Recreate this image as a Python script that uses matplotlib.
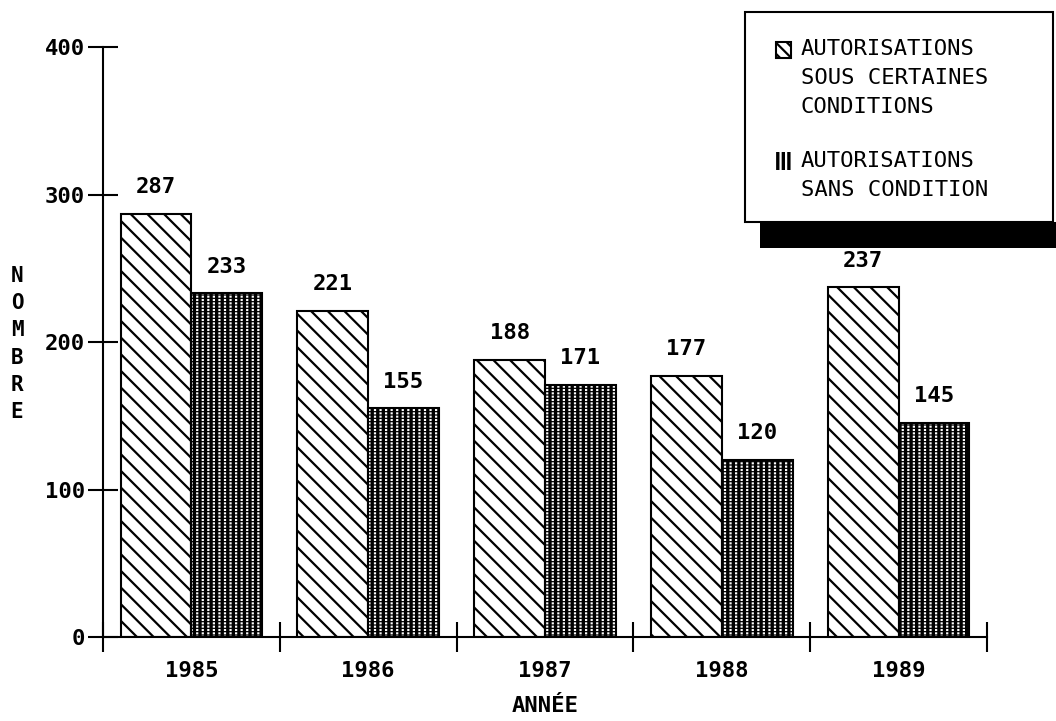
import numpy as np
import matplotlib
matplotlib.use("Agg")
import matplotlib.pyplot as plt
from matplotlib.patches import Rectangle

years = ["1985", "1986", "1987", "1988", "1989"]
sous_conditions = [287, 221, 188, 177, 237]
sans_condition = [233, 155, 171, 120, 145]
legend_labels = ["AUTORISATIONS\nSOUS CERTAINES\nCONDITIONS",
                 "AUTORISATIONS\nSANS CONDITION"]

plt.rcParams['font.family'] = ['DejaVu Sans Mono']
plt.rcParams['hatch.linewidth'] = 1.6

W, H = 1056, 721
fig = plt.figure(figsize=(W / 100, H / 100), dpi=100)
ax = fig.add_axes([103 / W, 1 - 637 / H, (987 - 103) / W, (637 - 47) / H])

x = np.arange(len(years))
bw = 0.4

# hatched bars
ax.bar(x - bw / 2, sous_conditions, bw, facecolor='white', edgecolor='black',
       hatch='\\\\', linewidth=1.5)

# dark bars with white dotted vertical stripes
ax.bar(x + bw / 2, sans_condition, bw, facecolor='black', edgecolor='white',
       hatch='|||', linewidth=0)
plt.rcParams['hatch.linewidth'] = 0.9
ax.bar(x + bw / 2, sans_condition, bw, fill=False, edgecolor='black',
       hatch='-----', linewidth=1.5)
plt.rcParams['hatch.linewidth'] = 1.6

for xi, v in zip(x - bw / 2, sous_conditions):
    ax.annotate(str(v), (xi, v), xytext=(0, 12), textcoords='offset points',
                ha='center', va='bottom', fontsize=16, fontweight='bold')
for xi, v in zip(x + bw / 2, sans_condition):
    ax.annotate(str(v), (xi, v), xytext=(0, 12), textcoords='offset points',
                ha='center', va='bottom', fontsize=16, fontweight='bold')

ax.set_xlim(-0.5, 4.5)
ax.set_ylim(0, 400)
ax.spines['top'].set_visible(False)
ax.spines['right'].set_visible(False)
ax.spines['left'].set_linewidth(1.5)
ax.spines['bottom'].set_linewidth(1.5)

ax.set_yticks([0, 100, 200, 300, 400])
ax.tick_params(axis='y', direction='inout', length=22, width=1.5, labelsize=16, pad=2)
for lbl in ax.get_yticklabels():
    lbl.set_fontweight('bold')
ax.set_xticks(np.arange(len(years) + 1) - 0.5)
ax.set_xticklabels([])
ax.tick_params(axis='x', direction='inout', length=22, width=1.5)
for xi, yr in zip(x, years):
    ax.text(xi, -0.04, yr, transform=ax.get_xaxis_transform(), ha='center',
            va='top', fontsize=16, fontweight='bold')
ax.text(2, -0.1, "ANNÉE", transform=ax.get_xaxis_transform(), ha='center',
        va='top', fontsize=16, fontweight='bold')

fig.text(17 / W, 1 - 344 / H, "N\nO\nM\nB\nR\nE", ha='center', va='center',
         fontsize=15, fontweight='bold', linespacing=1.45)

# legend box with shadow
fig.patches.append(Rectangle((760 / W, 1 - 248 / H), (W - 760) / W, 26 / H,
                             transform=fig.transFigure, facecolor='black',
                             edgecolor='none'))
fig.patches.append(Rectangle((745 / W, 1 - 222 / H), (1053 - 745) / W, 210 / H,
                             transform=fig.transFigure, facecolor='white',
                             edgecolor='black', linewidth=1.5))
fig.patches.append(Rectangle((776 / W, 1 - 58 / H), 15 / W, 16 / H,
                             transform=fig.transFigure, facecolor='white',
                             edgecolor='black', hatch='\\\\\\', linewidth=1.5))
fig.patches.append(Rectangle((776 / W, 1 - 170 / H), 15 / W, 18 / H,
                             transform=fig.transFigure, facecolor='black',
                             edgecolor='white', hatch='|||', linewidth=0))
fig.text(801 / W, 1 - 39 / H, legend_labels[0], ha='left', va='top',
         fontsize=16, linespacing=1.55)
fig.text(801 / W, 1 - 151 / H, legend_labels[1], ha='left', va='top',
         fontsize=16, linespacing=1.55)

fig.savefig("out.png", dpi=100)
